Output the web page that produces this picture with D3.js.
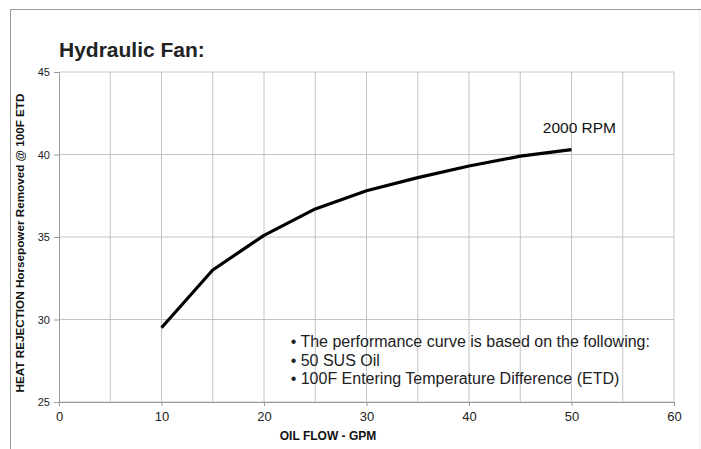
<!DOCTYPE html>
<html>
<head>
	<meta charset="utf-8">
	<title>Hydraulic Fan</title>
	<script src="https://d3js.org/d3.v7.min.js"></script>
	<style>
		body { margin: 0; background: #fff; }
		text { font-family: 'Liberation Sans', Arial, sans-serif; }
	</style>
</head>
<body>
	<div class="chart"></div>

	<script type="text/javascript">
		// data
		const flow = [10, 15, 20, 25, 30, 35, 40, 45, 50]
		const hp = [29.5, 33.0, 35.1, 36.7, 37.8, 38.6, 39.3, 39.9, 40.3]
		const xTicks = [0, 10, 20, 30, 40, 50, 60]
		const yTicks = [25, 30, 35, 40, 45]
		const gridX = [5, 10, 15, 20, 25, 30, 35, 40, 45, 50, 55, 60]
		const notes = [
			'• The performance curve is based on the following:',
			'• 50 SUS Oil',
			'• 100F Entering Temperature Difference (ETD)'
		]

		const width = 701
		const height = 449
		const margin = { top: 72, right: 27, bottom: 47, left: 59 }

		const svg = d3.select('.chart').append('svg')
			.attr('width', width)
			.attr('height', height)

		// outer frame
		svg.append('path')
			.attr('d', `M10.5,${height} V9.5 H${width}`)
			.attr('fill', 'none')
			.attr('stroke', '#999')
			.attr('stroke-width', 1)

		svg.append('line')
			.attr('x1', 699.5).attr('x2', 699.5)
			.attr('y1', 10).attr('y2', height)
			.attr('stroke', '#eee')

		const xScale = d3.scaleLinear()
			.domain([0, 60])
			.range([margin.left, width - margin.right])

		const yScale = d3.scaleLinear()
			.domain([25, 45])
			.range([height - margin.bottom, margin.top])

		// grid
		svg.append('g')
			.selectAll('line')
			.data(gridX)
			.join('line')
			.attr('x1', d => xScale(d))
			.attr('x2', d => xScale(d))
			.attr('y1', yScale(25))
			.attr('y2', yScale(45))
			.attr('stroke', '#c4c4c4')
			.attr('stroke-width', 1)

		svg.append('g')
			.selectAll('line')
			.data(yTicks)
			.join('line')
			.attr('x1', xScale(0))
			.attr('x2', xScale(60))
			.attr('y1', d => yScale(d))
			.attr('y2', d => yScale(d))
			.attr('stroke', '#c4c4c4')
			.attr('stroke-width', 1)

		// axes
		const xAxis = d3.axisBottom(xScale)
			.tickValues(xTicks)
			.tickSize(4)
			.tickPadding(6)

		const yAxis = d3.axisLeft(yScale)
			.tickValues(yTicks)
			.tickSize(5)
			.tickPadding(4)

		const gx = svg.append('g')
			.attr('transform', `translate(0, ${yScale(25)})`)
			.call(xAxis)
		gx.select('.domain').attr('stroke', '#999')
		gx.selectAll('.tick line').attr('stroke', '#999')
		gx.selectAll('text').attr('font-size', 13).attr('fill', '#222')

		const gy = svg.append('g')
			.attr('transform', `translate(${xScale(0)}, 0)`)
			.call(yAxis)
		gy.select('.domain').attr('stroke', '#999')
		gy.selectAll('.tick line').attr('stroke', '#999')
		gy.selectAll('text').attr('font-size', 11).attr('fill', '#222')

		// curve
		const line = d3.line()
			.x((d, i) => xScale(flow[i]))
			.y(d => yScale(d))

		svg.append('path')
			.attr('d', line(hp))
			.attr('fill', 'none')
			.attr('stroke', '#000')
			.attr('stroke-width', 3.2)
			.attr('stroke-linejoin', 'round')

		// labels
		svg.append('text')
			.attr('x', 59)
			.attr('y', 57)
			.attr('font-size', 21)
			.attr('font-weight', 'bold')
			.attr('fill', '#222')
			.text('Hydraulic Fan:')

		svg.append('text')
			.attr('transform', `translate(24, 243) rotate(-90)`)
			.attr('text-anchor', 'middle')
			.attr('font-size', 11.7)
			.attr('font-weight', 'bold')
			.attr('fill', '#111')
			.text('HEAT REJECTION Horsepower Removed @ 100F ETD')

		svg.append('text')
			.attr('x', 328)
			.attr('y', 440)
			.attr('text-anchor', 'middle')
			.attr('font-size', 12)
			.attr('font-weight', 'bold')
			.attr('fill', '#111')
			.text('OIL FLOW - GPM')

		svg.append('text')
			.attr('x', xScale(47.2))
			.attr('y', 133)
			.attr('font-size', 15.5)
			.attr('fill', '#111')
			.text('2000 RPM')

		svg.append('g')
			.selectAll('text')
			.data(notes)
			.join('text')
			.attr('x', xScale(22.6))
			.attr('y', (d, i) => 347 + i * 18.5)
			.attr('font-size', 16)
			.attr('fill', '#222')
			.text(d => d)
	</script>
</body>
</html>
